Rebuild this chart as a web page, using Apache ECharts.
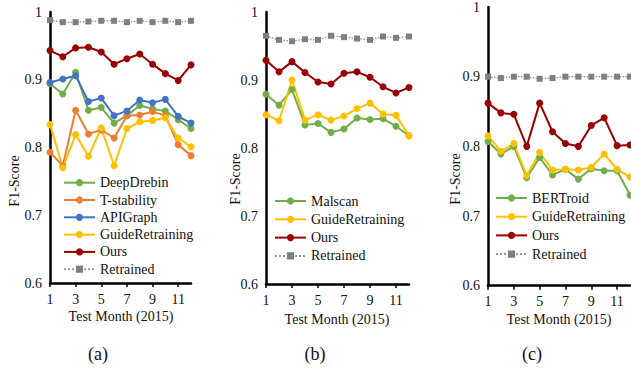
<!DOCTYPE html>
<html>
<head>
<meta charset="utf-8">
<script src="https://cdn.jsdelivr.net/npm/echarts@6/dist/echarts.min.js"></script>
<style>
  html, body { margin: 0; padding: 0; background: #fff; }
  #chart { width: 631px; height: 375px; }
</style>
</head>
<body>
<div id="chart"></div>
<script>
// months on the x axis
var months = ['1', '2', '3', '4', '5', '6', '7', '8', '9', '10', '11', '12'];

// (a)
var aDeepDrebin = [0.894, 0.879, 0.911, 0.855, 0.859, 0.836, 0.847, 0.862, 0.857, 0.854, 0.841, 0.828];
var aTStability = [0.793, 0.773, 0.855, 0.820, 0.826, 0.814, 0.847, 0.848, 0.853, 0.847, 0.804, 0.788];
var aAPIGraph = [0.896, 0.901, 0.906, 0.868, 0.873, 0.847, 0.854, 0.870, 0.866, 0.871, 0.846, 0.836];
var aGuide = [0.834, 0.770, 0.819, 0.787, 0.829, 0.773, 0.828, 0.838, 0.840, 0.844, 0.814, 0.801];
var aOurs = [0.943, 0.934, 0.947, 0.948, 0.941, 0.923, 0.931, 0.938, 0.923, 0.909, 0.899, 0.922];
var aRetrained = [0.988, 0.985, 0.985, 0.986, 0.987, 0.987, 0.985, 0.987, 0.985, 0.987, 0.985, 0.987];

// (b)
var bMalscan = [0.879, 0.863, 0.886, 0.834, 0.836, 0.823, 0.828, 0.844, 0.842, 0.843, 0.832, 0.818];
var bGuide = [0.849, 0.840, 0.900, 0.841, 0.849, 0.841, 0.847, 0.858, 0.866, 0.850, 0.848, 0.818];
var bOurs = [0.929, 0.912, 0.927, 0.911, 0.897, 0.894, 0.910, 0.912, 0.904, 0.890, 0.881, 0.889];
var bRetrained = [0.965, 0.959, 0.957, 0.960, 0.959, 0.965, 0.963, 0.961, 0.959, 0.964, 0.962, 0.964];

// (c)
var cBERTroid = [0.807, 0.789, 0.800, 0.755, 0.784, 0.759, 0.767, 0.753, 0.768, 0.765, 0.765, 0.730];
var cGuide = [0.815, 0.793, 0.804, 0.758, 0.791, 0.766, 0.767, 0.766, 0.770, 0.789, 0.767, 0.756];
var cOurs = [0.862, 0.848, 0.846, 0.800, 0.862, 0.821, 0.804, 0.800, 0.830, 0.841, 0.801, 0.802];
var cRetrained = [0.900, 0.898, 0.900, 0.900, 0.897, 0.898, 0.900, 0.900, 0.900, 0.900, 0.900, 0.900];

var yTicks = ['0.6', '0.7', '0.8', '0.9', '1'];

var FONT = 'Liberation Serif';
var colors = {
    DeepDrebin: '#70AD47', Malscan: '#70AD47', BERTroid: '#70AD47',
    'T-stability': '#ED7D31',
    APIGraph: '#4472C4',
    GuideRetraining: '#FFC000',
    Ours: '#990000',
    Retrained: '#7F7F7F'
};

var grids = [
    { left: 50, right: 440, top: 12, bottom: 92 },
    { left: 266, right: 222, top: 12, bottom: 91 },
    { left: 488, right: 1, top: 4.5, bottom: 89.3 }
];

function xAx(i) {
    return {
        gridIndex: i, type: 'category', data: months, boundaryGap: false,
        axisLine: { lineStyle: { color: '#000', width: 2.5 } },
        axisTick: { show: true, interval: 1, length: 4, lineStyle: { color: '#000', width: 1.5 } },
        axisLabel: { interval: 1, margin: 9, color: '#111', fontFamily: FONT, fontSize: 14 },
        splitLine: { show: false }
    };
}
function yAx(i) {
    return {
        gridIndex: i, type: 'value', min: 0.6, max: 1, interval: 0.1,
        axisLine: { show: true, lineStyle: { color: '#000', width: 2.5 } },
        axisTick: { show: false },
        axisLabel: {
            margin: 8, color: '#111', fontFamily: FONT, fontSize: 14,
            formatter: function (v) { return yTicks[Math.round((v - 0.6) * 10)]; }
        },
        splitLine: { show: false }
    };
}
function line(name, data, i) {
    if (name === 'Retrained') {
        return {
            name: name, type: 'line', xAxisIndex: i, yAxisIndex: i, data: data,
            symbol: 'rect', symbolSize: 6,
            itemStyle: { color: colors[name] },
            lineStyle: { color: '#9a9a9a', width: 1.5, type: 'dotted' }
        };
    }
    return {
        name: name, type: 'line', xAxisIndex: i, yAxisIndex: i, data: data,
        symbol: 'circle', symbolSize: 7,
        itemStyle: { color: colors[name] },
        lineStyle: { color: colors[name], width: 2 }
    };
}
function legend(names, left, top, gap) {
    return {
        data: names, orient: 'vertical', left: left, top: top, padding: 0,
        itemWidth: 31, itemHeight: 9, itemGap: gap, selectedMode: false,
        textStyle: { color: '#111', fontFamily: FONT, fontSize: 14, lineHeight: 14 }
    };
}
function txt(s, x, y, size, rot) {
    return {
        type: 'text', x: x, y: y, rotation: rot || 0,
        style: { text: s, fill: '#111', font: size + 'px "' + FONT + '"', textAlign: 'center', textVerticalAlign: 'middle' }
    };
}

var chart = echarts.init(document.getElementById('chart'), null, { renderer: 'svg' });
chart.setOption({
    animation: false,
    backgroundColor: '#fff',
    grid: grids,
    xAxis: [xAx(0), xAx(1), xAx(2)],
    yAxis: [yAx(0), yAx(1), yAx(2)],
    legend: [
        legend(['DeepDrebin', 'T-stability', 'APIGraph', 'GuideRetraining', 'Ours', 'Retrained'], 63, 175.7, 3.3),
        legend(['Malscan', 'GuideRetraining', 'Ours', 'Retrained'], 274, 194, 4.3),
        legend(['BERTroid', 'GuideRetraining', 'Ours', 'Retrained'], 495, 191, 4.7)
    ],
    graphic: [
        txt('F1-Score', 14, 181, 14, Math.PI / 2),
        txt('F1-Score', 235, 179, 14, Math.PI / 2),
        txt('F1-Score', 455, 179, 14, Math.PI / 2),
        txt('Test Month (2015)', 121, 316, 14),
        txt('Test Month (2015)', 337, 319, 14),
        txt('Test Month (2015)', 559, 319, 14),
        txt('(a)', 98, 354, 18),
        txt('(b)', 315, 354, 18),
        txt('(c)', 532, 354, 18)
    ],
    series: [
        line('Retrained', aRetrained, 0),
        line('DeepDrebin', aDeepDrebin, 0),
        line('T-stability', aTStability, 0),
        line('APIGraph', aAPIGraph, 0),
        line('GuideRetraining', aGuide, 0),
        line('Ours', aOurs, 0),
        line('Retrained', bRetrained, 1),
        line('Malscan', bMalscan, 1),
        line('GuideRetraining', bGuide, 1),
        line('Ours', bOurs, 1),
        line('Retrained', cRetrained, 2),
        line('BERTroid', cBERTroid, 2),
        line('GuideRetraining', cGuide, 2),
        line('Ours', cOurs, 2)
    ]
});
</script>
</body>
</html>
